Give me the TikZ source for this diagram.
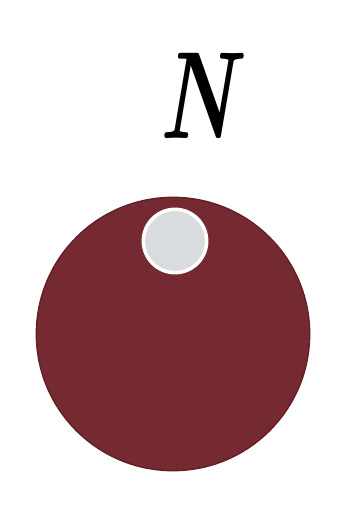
\documentclass[tikz,border=0pt]{standalone}
\usepackage{tikz}
\usetikzlibrary{positioning}
\definecolor{diskred}{RGB}{116,42,48}
\definecolor{diskedge}{RGB}{100,30,36}
\definecolor{holegray}{RGB}{216,220,222}
\tikzset{
  disk/.style={circle, draw=diskedge, line width=1.2pt, fill=diskred,
               minimum size=8.2cm, inner sep=0pt},
  hole/.style={circle, draw=white, line width=3pt, fill=holegray,
               minimum size=1.9cm, inner sep=0pt},
  pole/.style={font=\fontsize{106}{106}\selectfont\bfseries\itshape, inner sep=0pt}
}
\begin{document}
\begin{tikzpicture}[x=0.03cm, y=-0.03cm]
\useasboundingbox (0,0) rectangle (354,530);

% disc with its opening near the top
\node[disk] (body) at (173,334) {};
\node[hole] (opening) at (175,241) {};

% north mark
\node[pole, xscale=0.68] (north) at (197,96) {N};

\end{tikzpicture}
\end{document}
